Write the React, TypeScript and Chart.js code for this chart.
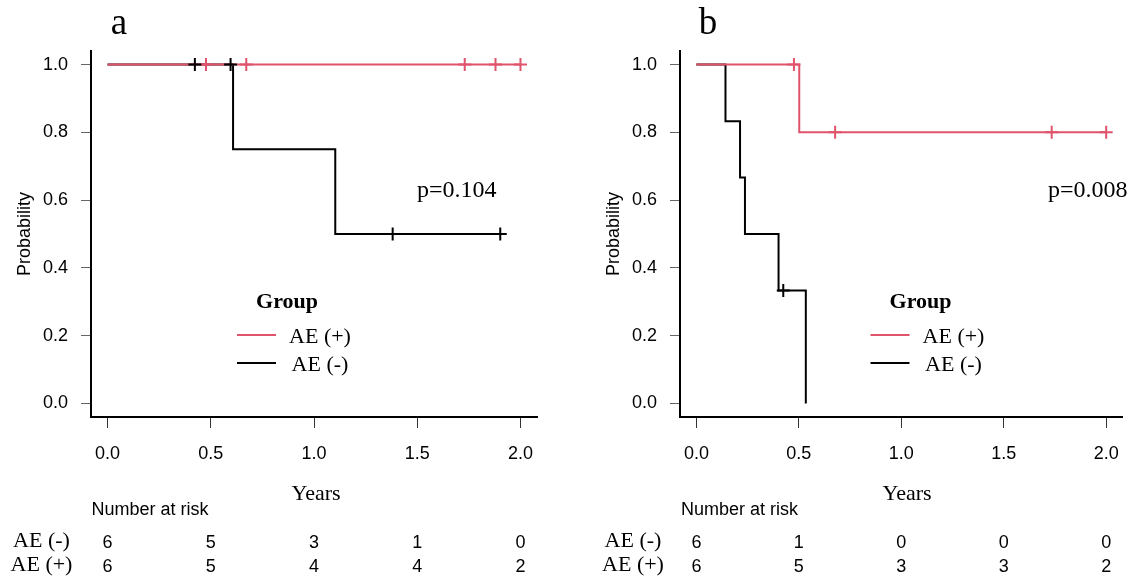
import React, { useEffect, useRef } from 'react';
import { Chart, registerables } from 'chart.js';

Chart.register(...registerables);

// ---------- data ----------
const xTicks = [0, 0.5, 1, 1.5, 2];
const yTicks = [0, 0.2, 0.4, 0.6, 0.8, 1.0];
const riskTimes = [0, 0.5, 1, 1.5, 2];
const legendLabels = ['AE (+)', 'AE (-)'];
const riskRowLabels = ['AE (-)', 'AE (+)'];

// Panel a
const aPosTimes = [0, 2.0];
const aPosSurv = [1, 1];
const aPosCensorTimes = [0.477, 0.672, 1.73, 1.879, 2.0];
const aPosCensorSurv = [1, 1, 1, 1, 1];
const aNegTimes = [0, 0.608, 1.103, 1.902];
const aNegSurv = [1, 0.75, 0.5, 0.5];
const aNegCensorTimes = [0.423, 0.596, 1.381, 1.902];
const aNegCensorSurv = [1, 1, 0.5, 0.5];
const aRiskNeg = [6, 5, 3, 1, 0];
const aRiskPos = [6, 5, 4, 4, 2];
const aPValue = 'p=0.104';

// Panel b
const bPosTimes = [0, 0.502, 2.0];
const bPosSurv = [1, 0.8, 0.8];
const bPosCensorTimes = [0.476, 0.677, 1.734, 2.0];
const bPosCensorSurv = [1, 0.8, 0.8, 0.8];
const bNegTimes = [0, 0.142, 0.213, 0.237, 0.401, 0.534];
const bNegSurv = [1, 0.833, 0.667, 0.5, 0.333, 0];
const bNegCensorTimes = [0.424];
const bNegCensorSurv = [0.333];
const bRiskNeg = [6, 1, 0, 0, 0];
const bRiskPos = [6, 5, 3, 3, 2];
const bPValue = 'p=0.008';

// ---------- styles ----------
const RED = '#DF536B';
const BLACK = '#000000';
const SANS = '"Liberation Sans", Arial, Helvetica, sans-serif';
const SERIF = '"Liberation Serif", "Times New Roman", Times, serif';
const H = 578;
const CW = 567;
const PLOT_TOP = 51;
const PLOT_BOTTOM = 417;

const pts = (xs: number[], ys: number[]) => xs.map((x, i) => ({ x, y: ys[i] }));

type PanelCfg = {
  canvasLeft: number;
  plotLeft: number;
  plotRight: number;
  letter: string;
  letterX: number;
  pText: string;
  pX: number;
  legendDX: number;
  yearsX: number;
  narX: number;
  rowLabelX: number;
  probX: number;
  pos: { t: number[]; s: number[]; ct: number[]; cs: number[] };
  neg: { t: number[]; s: number[]; ct: number[]; cs: number[] };
  riskNeg: number[];
  riskPos: number[];
};

const panels: PanelCfg[] = [
  {
    canvasLeft: 0, plotLeft: 91, plotRight: 537, letter: 'a', letterX: 119,
    pText: aPValue, pX: 417, legendDX: 0, yearsX: 316, narX: 91.5, rowLabelX: 41.5, probX: 30,
    pos: { t: aPosTimes, s: aPosSurv, ct: aPosCensorTimes, cs: aPosCensorSurv },
    neg: { t: aNegTimes, s: aNegSurv, ct: aNegCensorTimes, cs: aNegCensorSurv },
    riskNeg: aRiskNeg, riskPos: aRiskPos,
  },
  {
    canvasLeft: 567, plotLeft: 680, plotRight: 1126, letter: 'b', letterX: 708,
    pText: bPValue, pX: 1048, legendDX: 633.5, yearsX: 907, narX: 681, rowLabelX: 633, probX: 619,
    pos: { t: bPosTimes, s: bPosSurv, ct: bPosCensorTimes, cs: bPosCensorSurv },
    neg: { t: bNegTimes, s: bNegSurv, ct: bNegCensorTimes, cs: bNegCensorSurv },
    riskNeg: bRiskNeg, riskPos: bRiskPos,
  },
];

function Panel({ cfg }: { cfg: PanelCfg }) {
  const ref = useRef<HTMLCanvasElement>(null);
  useEffect(() => {
    const canvas = ref.current;
    if (!canvas) return;
    const off = cfg.canvasLeft;
    const textPlugin = {
      id: 'kmText',
      afterDraw(chart: any) {
        const ctx = chart.ctx as CanvasRenderingContext2D;
        const xs = chart.scales.x;
        ctx.save();
        ctx.fillStyle = '#000';
        ctx.textBaseline = 'alphabetic';
        // panel letter
        ctx.font = `37px ${SERIF}`;
        ctx.textAlign = 'center';
        ctx.fillText(cfg.letter, cfg.letterX - off, 34);
        // p value
        ctx.font = `24px ${SERIF}`;
        ctx.textAlign = 'left';
        ctx.fillText(cfg.pText, cfg.pX - off, 197);
        // y title
        ctx.save();
        ctx.translate(cfg.probX - off, 234);
        ctx.rotate(-Math.PI / 2);
        ctx.font = `18px ${SANS}`;
        ctx.textAlign = 'center';
        ctx.fillText('Probability', 0, 0);
        ctx.restore();
        // x title
        ctx.font = `22px ${SERIF}`;
        ctx.textAlign = 'center';
        ctx.fillText('Years', cfg.yearsX - off, 500);
        // number at risk
        ctx.font = `18px ${SANS}`;
        ctx.textAlign = 'left';
        ctx.fillText('Number at risk', cfg.narX - off, 514.5);
        const rows = [cfg.riskNeg, cfg.riskPos];
        const rowBase = [547, 571];
        rows.forEach((row, r) => {
          ctx.font = `22px ${SERIF}`;
          ctx.textAlign = 'center';
          ctx.fillText(riskRowLabels[r], cfg.rowLabelX - off, rowBase[r]);
          ctx.font = `18px ${SANS}`;
          row.forEach((n, i) => {
            ctx.fillText(String(n), xs.getPixelForValue(riskTimes[i]), rowBase[r] + 1);
          });
        });
        // legend
        const dx = cfg.legendDX - off;
        ctx.font = `bold 22px ${SERIF}`;
        ctx.textAlign = 'center';
        ctx.fillText('Group', 287 + dx, 308);
        const lcols = [RED, BLACK];
        const ly = [335, 363];
        legendLabels.forEach((lab, i) => {
          ctx.strokeStyle = lcols[i];
          ctx.lineWidth = 2;
          ctx.beginPath();
          ctx.moveTo(237 + dx, ly[i]);
          ctx.lineTo(276 + dx, ly[i]);
          ctx.stroke();
          ctx.font = `22px ${SERIF}`;
          ctx.fillText(lab, 320 + dx, ly[i] + 7.5);
        });
        ctx.restore();
      },
    };

    const chart = new Chart(canvas, {
      type: 'scatter',
      data: {
        datasets: [
          {
            label: 'AE (-) censored', data: pts(cfg.neg.ct, cfg.neg.cs), showLine: false,
            pointStyle: 'cross', pointRadius: 6.5, pointBorderWidth: 2, borderColor: BLACK, backgroundColor: BLACK, order: 0,
          },
          {
            label: 'AE (+) censored', data: pts(cfg.pos.ct, cfg.pos.cs), showLine: false,
            pointStyle: 'cross', pointRadius: 6.5, pointBorderWidth: 2, borderColor: RED, backgroundColor: RED, order: 1,
          },
          {
            label: 'AE (+)', data: pts(cfg.pos.t, cfg.pos.s), showLine: true, stepped: 'before',
            pointRadius: 0, borderWidth: 2, borderColor: RED, backgroundColor: RED, fill: false, order: 2,
          },
          {
            label: 'AE (-)', data: pts(cfg.neg.t, cfg.neg.s), showLine: true, stepped: 'before',
            pointRadius: 0, borderWidth: 2, borderColor: BLACK, backgroundColor: BLACK, fill: false, order: 3,
          },
        ] as any,
      },
      options: {
        responsive: false,
        animation: false,
        devicePixelRatio: 1,
        events: [],
        layout: {
          autoPadding: false,
          padding: { left: 0, top: PLOT_TOP, right: CW - (cfg.plotRight - off), bottom: H - PLOT_BOTTOM - 50 },
        },
        plugins: { legend: { display: false }, tooltip: { enabled: false }, title: { display: false } },
        scales: {
          x: {
            type: 'linear', min: -0.08, max: 2.08,
            afterBuildTicks: (s: any) => { s.ticks = xTicks.map((v) => ({ value: v })); },
            afterFit: (s: any) => { s.height = 50; },
            grid: { drawOnChartArea: false, drawTicks: true, tickLength: 11, color: '#333', lineWidth: 1 },
            border: { display: true, color: '#000', width: 2 },
            ticks: { color: '#000', font: { family: SANS, size: 18 }, padding: 15, maxRotation: 0, callback: (v: any) => Number(v).toFixed(1) },
          },
          y: {
            type: 'linear', min: -0.04, max: 1.04,
            afterBuildTicks: (s: any) => { s.ticks = yTicks.map((v) => ({ value: v })); },
            afterFit: (s: any) => { s.width = cfg.plotLeft - off; },
            grid: { drawOnChartArea: false, drawTicks: true, tickLength: 10, color: '#666', lineWidth: 1 },
            border: { display: true, color: '#000', width: 2 },
            ticks: { color: '#000', font: { family: SANS, size: 18 }, padding: 13, callback: (v: any) => Number(v).toFixed(1) },
          },
        },
      } as any,
      plugins: [textPlugin],
    });
    return () => chart.destroy();
  }, [cfg]);
  return (
    <canvas
      ref={ref}
      width={CW}
      height={H}
      style={{ position: 'absolute', left: cfg.canvasLeft, top: 0, width: CW, height: H }}
    />
  );
}

export default function App() {
  return (
    <div style={{ position: 'absolute', left: 0, top: 0, width: 1134, height: H, background: '#fff', overflow: 'hidden' }}>
      {panels.map((p, i) => (
        <Panel key={i} cfg={p} />
      ))}
    </div>
  );
}
